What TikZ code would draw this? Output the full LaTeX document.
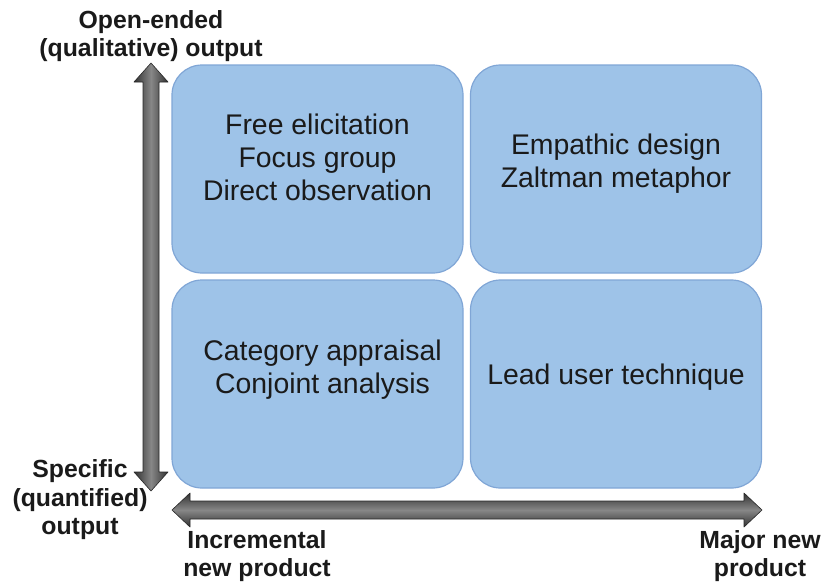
\documentclass[tikz,border=0pt]{standalone}
\usepackage{fontspec}
\setmainfont{Liberation Sans}
\begin{document}
\begin{tikzpicture}[x=1pt,y=-1pt,
  quad/.style={draw=boxedge, line width=1.2pt, fill=boxfill, rounded corners=30pt,
    minimum width=291pt, minimum height=208pt, inner sep=0pt},
  quadtext/.style={align=center, text=ink, font=\fontsize{28.4}{33}\selectfont},
  axislabel/.style={align=center, text=ink, font=\bfseries\fontsize{24.8}{28.5}\selectfont},
  axisarrow/.style={draw=arrowedge, line width=0.6pt, line join=round}
]
\definecolor{boxfill}{RGB}{158,195,232}
\definecolor{boxedge}{RGB}{128,166,214}
\definecolor{ink}{RGB}{26,26,26}
\definecolor{arrowdark}{RGB}{50,50,50}
\definecolor{arrowlight}{RGB}{135,135,135}
\definecolor{arrowedge}{RGB}{40,40,40}

\useasboundingbox (0,0) rectangle (824,584);

% quadrants
\node[quad] (tl) at (317.5,169) {};
\node[quad] (tr) at (616,169) {};
\node[quad] (bl) at (317.5,384) {};
\node[quad] (br) at (616,384) {};

\node[quadtext] (tltext) at ([yshift=12]tl.center) {Free elicitation\\Focus group\\Direct observation};
\node[quadtext] (trtext) at ([yshift=5]tr.center) {Empathic design\\Zaltman metaphor};
\node[quadtext] (bltext) at ([xshift=5,yshift=14]bl.center) {Category appraisal\\Conjoint analysis};
\node[quadtext] (brtext) at ([yshift=7]br.center) {Lead user technique};

% vertical axis (double-headed block arrow)
\path[axisarrow, left color=arrowdark, right color=arrowdark, middle color=arrowlight]
  (151,63) -- (168,82) -- (159,82) -- (159,472) -- (168,472) -- (151,491)
  -- (134,472) -- (143,472) -- (143,82) -- (134,82) -- cycle;

% horizontal axis (double-headed block arrow)
\path[axisarrow, top color=arrowdark, bottom color=arrowdark, middle color=arrowlight]
  (172,510) -- (190,493) -- (190,501) -- (744,501) -- (744,493) -- (762,510)
  -- (744,527) -- (744,519) -- (190,519) -- (190,527) -- cycle;

% axis labels
\node[axislabel] (top) at (151,36) {Open-ended\\(qualitative) output};
\node[axislabel] (bottom) at (80,500) {Specific\\(quantified)\\output};
\node[axislabel] (left) at (257,556) {Incremental\\new product};
\node[axislabel] (right) at (760,556) {Major new\\product};
\end{tikzpicture}
\end{document}
